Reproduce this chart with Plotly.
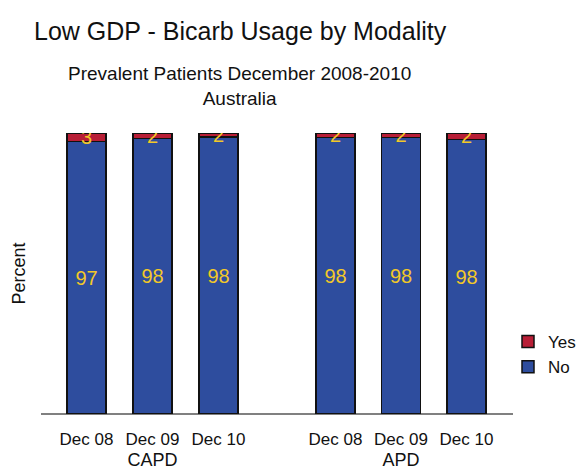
import plotly.graph_objects as go

periods = ["Dec 08", "Dec 09", "Dec 10"]
modalities = ["CAPD", "APD"]
capd_no = [97.0, 98.0, 98.5]
capd_yes = [3.0, 2.0, 1.5]
apd_no = [98.4, 98.4, 97.6]
apd_yes = [1.6, 1.6, 2.4]

RED = "#B81E36"
BLUE = "#2E4D9E"
YELLOW = "#F2C828"
FONT = "Liberation Sans, Arial, sans-serif"

fig = go.Figure()

def add(vals, name, color, xaxis, show):
    fig.add_trace(go.Bar(
        x=periods, y=vals, name=name, legendgroup=name, showlegend=show,
        marker=dict(color=color, line=dict(color="#111111", width=1.5)),
        text=[f"{v:.0f}" for v in vals], textposition="inside", textangle=0,
        insidetextanchor="middle", constraintext="none",
        textfont=dict(color=YELLOW, size=20, family=FONT),
        xaxis=xaxis, yaxis="y", hoverinfo="skip",
    ))

add(capd_no, "No", BLUE, "x", True)
add(capd_yes, "Yes", RED, "x", True)
add(apd_no, "No", BLUE, "x2", False)
add(apd_yes, "Yes", RED, "x2", False)

L, R = 41, 513
W = R - L
def px(v):
    return (v - L) / W

axcommon = dict(type="category", showline=False, showgrid=False, zeroline=False,
                ticks="outside", ticklen=10, tickcolor="rgba(0,0,0,0)",
                tickfont=dict(size=17, family=FONT, color="#111111"),
                title_font=dict(size=18, family=FONT, color="#111111"),
                title_standoff=15, fixedrange=True)

fig.update_layout(
    width=585, height=470,
    margin=dict(l=L, r=585 - R, t=133, b=56, autoexpand=False),
    paper_bgcolor="white", plot_bgcolor="white",
    barmode="stack", bargap=0.41,
    font=dict(family=FONT, color="#111111"),
    xaxis=dict(domain=[px(53.5), px(251.5)], title_text=modalities[0], **axcommon),
    xaxis2=dict(domain=[px(302.75), px(499.25)], title_text=modalities[1],
                anchor="y", **axcommon),
    yaxis=dict(range=[0, 100], showticklabels=False, showgrid=False, zeroline=False,
               showline=False, ticks="", title_text="Percent",
               title_font=dict(size=18, family=FONT, color="#111111"),
               title_standoff=22, fixedrange=True),
    legend=dict(xref="container", yref="container", x=508 / 585, xanchor="left",
                y=(470 - 385) / 470, yanchor="bottom",
                traceorder="reversed", font=dict(size=17, family=FONT, color="#111111"),
                itemwidth=30, tracegroupgap=0, bgcolor="rgba(0,0,0,0)"),
    showlegend=True,
    shapes=[dict(type="line", xref="paper", yref="paper", x0=0, x1=1, y0=0, y1=0,
                 line=dict(color="#808080", width=2), layer="below")],
    annotations=[
        dict(text="Low GDP - Bicarb Usage by Modality", xref="paper", yref="paper",
             x=px(240), y=(414 - 31) / 281, xanchor="center", yanchor="middle",
             showarrow=False, font=dict(size=25, family=FONT, color="#111111")),
        dict(text="Prevalent Patients December 2008-2010<br>Australia", xref="paper",
             yref="paper", x=px(239), y=(414 - 86) / 281, xanchor="center",
             yanchor="middle", showarrow=False,
             font=dict(size=19, family=FONT, color="#111111")),
    ],
)

fig.write_html("out.html")
